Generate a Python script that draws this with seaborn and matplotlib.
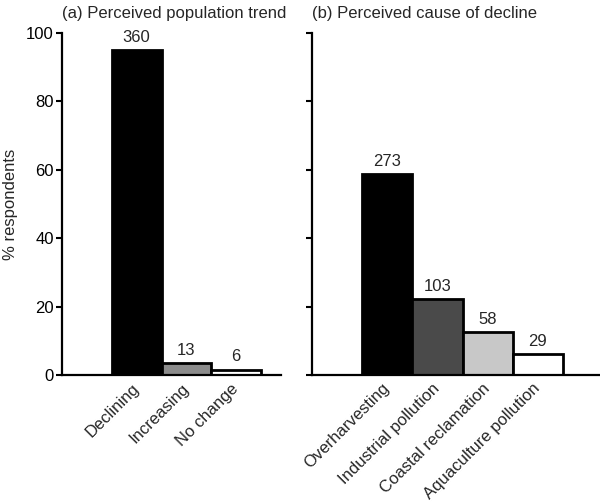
import matplotlib
matplotlib.use("Agg")
import matplotlib.pyplot as plt
import seaborn as sns
import pandas as pd

trend_cats = ["Declining", "Increasing", "No change"]
trend_pct = [95.0, 3.4, 1.6]
trend_n = ["360", "13", "6"]
trend_colors = ["#000000", "#8c8c8c", "#ffffff"]

cause_cats = ["Overharvesting", "Industrial pollution", "Coastal reclamation", "Aquaculture pollution"]
cause_pct = [58.8, 22.2, 12.5, 6.2]
cause_n = ["273", "103", "58", "29"]
cause_colors = ["#000000", "#4a4a4a", "#c8c8c8", "#ffffff"]

sns.set_theme(style="ticks")
plt.rcParams['font.family'] = ['Liberation Sans', 'DejaVu Sans']

FS = 12

fig = plt.figure(figsize=(6.0, 5.04), dpi=100)
ax1 = fig.add_axes([62/600, 1-375/504, 219/600, 342/504])
ax2 = fig.add_axes([312/600, 1-375/504, 288/600, 342/504])

def draw(ax, cats, pct, ns, colors, title, xlim, ylab):
    df = pd.DataFrame({"cat": cats, "pct": pct})
    sns.barplot(data=df, x="cat", y="pct", hue="cat", palette=colors, legend=False,
                width=1.0, edgecolor="black", linewidth=2, ax=ax, saturation=1)
    for i, (v, n) in enumerate(zip(pct, ns)):
        ax.text(i, v + 1.5, n, ha="center", va="bottom", fontsize=FS)
    ax.set_ylim(0, 100)
    ax.set_xlim(*xlim)
    ax.set_yticks([0, 20, 40, 60, 80, 100])
    for s in ["top", "right"]:
        ax.spines[s].set_visible(False)
    for s in ["left", "bottom"]:
        ax.spines[s].set_linewidth(1.6)
        ax.spines[s].set_color("black")
    ax.tick_params(axis="y", direction="out", length=4, width=1.5, labelsize=FS, colors="black", pad=2)
    ax.tick_params(axis="x", length=0, labelsize=FS, pad=8)
    ax.set_xticks(range(len(cats)))
    ax.set_xticklabels(cats, rotation=45, ha="right", va="center", rotation_mode="anchor")
    ax.set_xlabel("")
    ax.set_ylabel(ylab, fontsize=FS)
    ax.set_title(title, loc="left", fontsize=FS, pad=11)

draw(ax1, trend_cats, trend_pct, trend_n, trend_colors, "(a) Perceived population trend", (-1.5, 2.9), "% respondents")
draw(ax2, cause_cats, cause_pct, cause_n, cause_colors, "(b) Perceived cause of decline", (-1.5, 4.24), "")
ax2.set_yticklabels([])
ax1.yaxis.set_label_coords(-0.2, 0.5)

fig.savefig("out.png", dpi=100)
